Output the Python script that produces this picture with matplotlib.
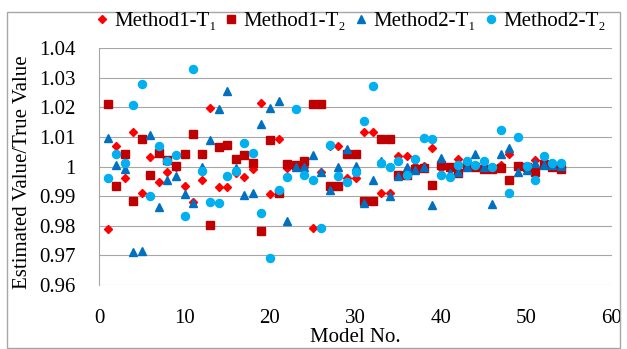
import matplotlib
matplotlib.use("Agg")
import matplotlib.pyplot as plt
from matplotlib.patches import Rectangle

plt.rcParams['font.family'] = ['Liberation Serif', 'DejaVu Serif']

models = list(range(1, 55))

m1_t1 = [0.979, 1.007, 0.996, 1.0118, 0.9912, 1.0032, 0.9947, 0.998, 1.0, 0.9935,
         0.9879, 0.9954, 1.0199, 0.993, 0.993, 0.9977, 0.9965, 0.999, 1.0216, 0.9906,
         1.0092, 0.9994, 1.0003, 0.9998, 0.9791, 0.9982, 1.007, 1.007, 0.996, 0.996,
         1.0118, 1.0118, 0.9912, 0.9912, 1.0034, 1.0034, 1.0002, 1.0002, 1.0062, 0.9994,
         0.9995, 1.0026, 1.0, 1.0002, 0.9993, 0.9993, 1.0004, 1.0043, 1.0, 1.0003,
         1.0022, 1.0007, 1.0002, 0.9995]

m1_t2 = [1.021, 0.9933, 1.0042, 0.9885, 1.0092, 0.9972, 1.0045, 1.0021, 1.0002, 1.0042,
         1.0109, 1.0042, 0.9801, 1.0065, 1.0071, 1.0025, 1.0039, 1.0013, 0.9783, 1.009,
         0.991, 1.0008, 1.0005, 1.0017, 1.021, 1.021, 0.9933, 0.9933, 1.0042, 1.0042,
         0.9884, 0.9884, 1.0092, 1.0092, 0.9972, 0.9972, 0.9991, 0.9994, 0.9938, 1.0006,
         1.0, 0.9977, 1.0002, 1.0, 0.9991, 0.9991, 0.9995, 0.9956, 1.0001, 1.0,
         0.9981, 1.0009, 1.0, 0.9993]

m2_t1 = [1.0095, 1.0006, 0.9993, 0.9712, 0.9716, 1.0107, 0.9864, 0.9956, 0.9969, 0.9907,
         0.9876, 1.0, 1.009, 1.0195, 1.0256, 0.9996, 0.9904, 0.9911, 1.0143, 1.0199,
         1.0222, 0.9815, 0.9998, 0.9998, 1.0039, 0.998, 0.9919, 0.9999, 1.0058, 1.0002,
         0.9876, 0.9955, 1.002, 0.9899, 0.9969, 1.0, 0.9987, 0.9998, 0.9871, 1.0028,
         0.9978, 0.998, 1.0, 1.0043, 0.9998, 0.9872, 1.0043, 1.0062, 0.9983, 0.9987,
         1.0013, 1.0006, 1.0006, 1.0002]

m2_t2 = [0.996, 1.0042, 1.0011, 1.0208, 1.0279, 0.9899, 1.007, 1.002, 1.0039, 0.9834,
         1.0328, 0.9986, 0.988, 0.9876, 0.9967, 0.9984, 1.0081, 1.0047, 0.9843, 0.9691,
         0.9919, 0.9963, 1.0194, 0.997, 0.9955, 0.9791, 1.0073, 0.9969, 0.9946, 0.998,
         1.0153, 1.0273, 1.0013, 1.0, 1.002, 0.9972, 1.0025, 1.0096, 1.0092, 0.9972,
         0.9964, 1.0005, 1.002, 1.0006, 1.002, 0.9999, 1.0124, 0.9912, 1.0101, 1.0002,
         0.9953, 1.0034, 1.0013, 1.0013]

yticks = [0.96, 0.97, 0.98, 0.99, 1.00, 1.01, 1.02, 1.03, 1.04]
ytick_labels = ['0.96', '0.97', '0.98', '0.99', '1', '1.01', '1.02', '1.03', '1.04']
xticks = [0, 10, 20, 30, 40, 50, 60]

W, H = 627, 349
fig = plt.figure(figsize=(W / 100, H / 100), dpi=100)
left, right, top, bottom = 99, 612, 48, 285
ax = fig.add_axes([left / W, 1 - bottom / H, (right - left) / W, (bottom - top) / H])

grid_c = '#A6A6A6'
for y in yticks:
    ax.axhline(y, color=grid_c, lw=0.8, zorder=1)

ax.plot(models, m1_t1, ls='none', marker='D', ms=3.8, color='#FF0000', mec='#FF0000', zorder=3, label='Method1-T\u2081')
ax.plot(models, m1_t2, ls='none', marker='s', ms=5.4, color='#C00000', mec='#C00000', zorder=4, label='Method1-T\u2082')
ax.plot(models, m2_t1, ls='none', marker='^', ms=5.6, color='#0070C0', mec='#0070C0', zorder=5, label='Method2-T\u2081')
ax.plot(models, m2_t2, ls='none', marker='o', ms=5.8, color='#00B0F0', mec='#00B0F0', zorder=6, label='Method2-T\u2082')

ax.set_xlim(0, 60)
ax.set_ylim(0.96, 1.04)
ax.set_xticks(xticks)
ax.set_yticks(yticks)
ax.set_yticklabels(ytick_labels)
ax.tick_params(axis='both', length=0, labelsize=15, colors='black')
ax.tick_params(axis='x', pad=17)
ax.tick_params(axis='y', pad=17)
for s in ['top', 'right', 'bottom']:
    ax.spines[s].set_visible(False)
ax.spines['left'].set_color(grid_c)
ax.spines['left'].set_linewidth(0.8)

fig.text(355 / W, 1 - 342 / H, 'Model No.', ha='center', va='baseline', fontsize=15)
fig.text(23 / W, 1 - 172 / H, 'Estimated Value/True Value', rotation=90,
         ha='center', va='center', fontsize=15)

handles, labels = ax.get_legend_handles_labels()
fig.legend(handles, labels, loc='center', bbox_to_anchor=(351 / W, 1 - 21 / H),
           ncol=4, frameon=False, fontsize=15, handlelength=0.5, handletextpad=0.35,
           columnspacing=0.45, borderaxespad=0, borderpad=0)

fig.patches.append(Rectangle((7 / W, 1 - 348 / H), (620 - 7) / W, (348 - 12) / H,
                             transform=fig.transFigure, fill=False, ec='#A6A6A6', lw=1))

fig.savefig('out.png', dpi=100)
